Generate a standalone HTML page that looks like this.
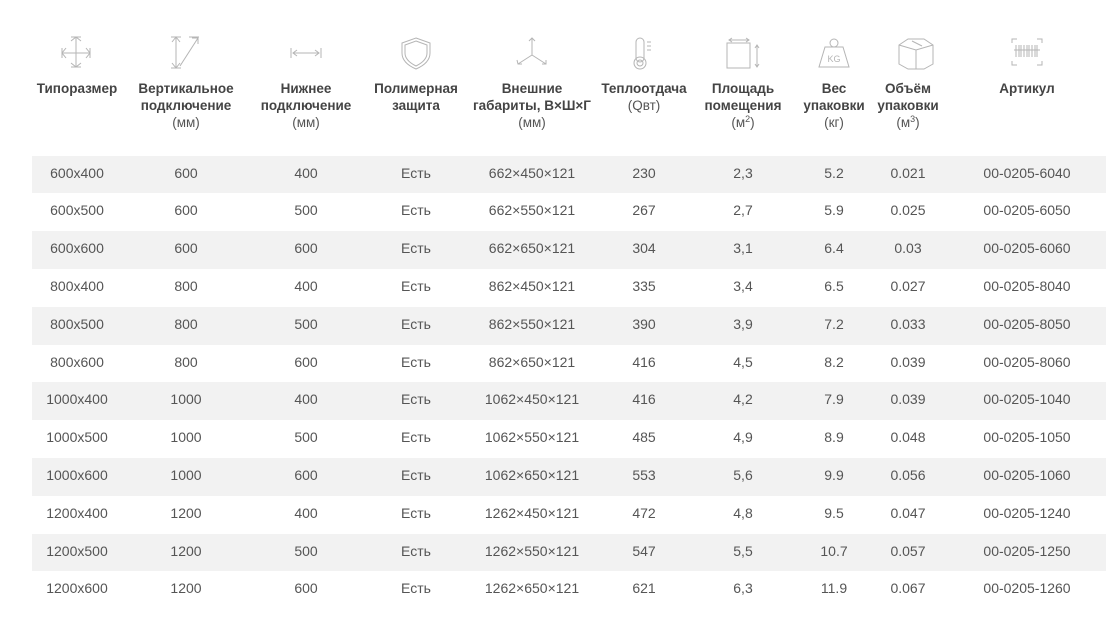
<!DOCTYPE html>
<html><head><meta charset="utf-8"><style>
body{margin:0;width:1106px;height:642px;background:#fff;font-family:"Liberation Sans",Arial,sans-serif;position:relative;overflow:hidden}
.h{position:absolute;top:80px;width:130px;margin-left:-65px;text-align:center;font-size:13.5px;line-height:17px;color:#444;font-weight:bold}
.h span{font-weight:normal;color:#555;font-size:13.5px}
sup{font-size:9px;line-height:0;vertical-align:5px}
.row{position:absolute;left:32px;width:1074px;height:38px}
.c{position:absolute;width:140px;margin-left:-70px;text-align:center;font-size:14px;color:#555;line-height:35px;top:0}
svg{position:absolute}
</style></head><body>
<svg width="1106" height="80" style="left:0;top:0" fill="none" stroke="#b5b5b5" stroke-width="1">
<path d="M76 37v30M62 53h28M71 41l5-4 5 4M71 63l5 4 5-4M66 48l-4 5 4 5M86 48l4 5-4 5M71 37h10M71 67h10M62 48v10M90 48v10"/>
<path d="M171 37h10M171 68h10M176 37v31M172 42l4-5 4 5M172 63l4 5 4-5M180 66l18-28M189 37h10M192 38h6v6"/>
<path d="M291 48v10M321 48v10M293 53h26M297 50l-4 3 4 3M315 50l4 3-4 3"/>
<path d="M416 38l14 5v10c0 8-7 13-14 16c-7-3-14-8-14-16V43z"/><path d="M416 41l11 4v8c0 6-5 10-11 13c-6-3-11-7-11-13v-8z"/>
<path d="M532 38v17M532 55l-14 9M532 55l14 9M529 41l3-3 3 3M517 60l1 4 4 0M546 60l0 4-4 0"/>
<rect x="636" y="38" width="8" height="24" rx="4"/><circle cx="640" cy="63" r="6"/><circle cx="640" cy="63" r="3"/><path d="M647 42h4M647 46h4M647 50h4"/>
<rect x="727" y="43" width="23" height="25"/><path d="M729 40h20M732 38l-3 2 3 2M746 38l3 2-3 2M757 45v22M755 48l2-3 2 3M755 64l2 3 2-3"/>
<circle cx="834" cy="43" r="4"/><path d="M825 47h18l6 20h-30z"/><text x="834" y="62" font-size="9" fill="#b5b5b5" stroke="none" text-anchor="middle" font-family="Liberation Sans">KG</text>
<path d="M899 45l9-6 16 0 9 6v19l-9 5h-16l-9-5zM899 45l17 5 17-5M916 50v19M912 41l10 5"/>
<path d="M1012 43v-4h5M1042 43v-4h-5M1012 61v4h5M1042 61v4h-5M1016 45v12M1019 45v12M1021 45v12M1024 45v12M1027 45v12M1029 45v12M1032 45v12M1035 45v12M1037 45v12M1014 50h26"/>
</svg>
<div class="h" style="left:77px">Типоразмер</div>
<div class="h" style="left:186px">Вертикальное<br>подключение<br><span>(мм)</span></div>
<div class="h" style="left:306px">Нижнее<br>подключение<br><span>(мм)</span></div>
<div class="h" style="left:416px">Полимерная<br>защита</div>
<div class="h" style="left:532px;width:140px;margin-left:-70px">Внешние<br>габариты, В×Ш×Г<br><span>(мм)</span></div>
<div class="h" style="left:644px">Теплоотдача<br><span>(Qвт)</span></div>
<div class="h" style="left:743px;width:90px;margin-left:-45px">Площадь<br>помещения<br><span>(м<sup>2</sup>)</span></div>
<div class="h" style="left:834px;width:80px;margin-left:-40px">Вес<br>упаковки<br><span>(кг)</span></div>
<div class="h" style="left:908px;width:80px;margin-left:-40px">Объём<br>упаковки<br><span>(м<sup>3</sup>)</span></div>
<div class="h" style="left:1027px">Артикул</div>
<div id="t"></div>
<script>
var d=[["600x400",600,400,"662×450×121",230,"2,3","5.2","0.021","6040"],["600x500",600,500,"662×550×121",267,"2,7","5.9","0.025","6050"],["600x600",600,600,"662×650×121",304,"3,1","6.4","0.03","6060"],["800x400",800,400,"862×450×121",335,"3,4","6.5","0.027","8040"],["800x500",800,500,"862×550×121",390,"3,9","7.2","0.033","8050"],["800x600",800,600,"862×650×121",416,"4,5","8.2","0.039","8060"],["1000x400",1000,400,"1062×450×121",416,"4,2","7.9","0.039","1040"],["1000x500",1000,500,"1062×550×121",485,"4,9","8.9","0.048","1050"],["1000x600",1000,600,"1062×650×121",553,"5,6","9.9","0.056","1060"],["1200x400",1200,400,"1262×450×121",472,"4,8","9.5","0.047","1240"],["1200x500",1200,500,"1262×550×121",547,"5,5","10.7","0.057","1250"],["1200x600",1200,600,"1262×650×121",621,"6,3","11.9","0.067","1260"]];
var xs=[77,186,306,416,532,644,743,834,908,1027],h="";
d.forEach(function(r,i){var v=[r[0],r[1],r[2],"Есть",r[3],r[4],r[5],r[6],r[7],"00-0205-"+r[8]];
h+='<div class="row" style="top:'+(155.5+i*37.8)+'px;background:'+(i%2==0?'#f2f2f2':'#fff')+'">';
v.forEach(function(t,j){h+='<div class="c" style="left:'+(xs[j]-32)+'px">'+t+'</div>'});h+='</div>'});
document.getElementById('t').innerHTML=h;
</script>
</body></html>
